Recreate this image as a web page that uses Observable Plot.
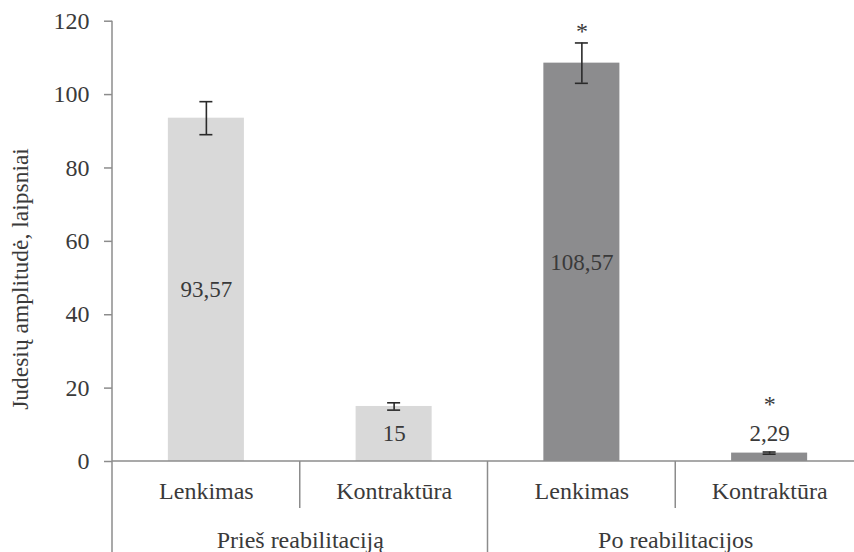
<!DOCTYPE html>
<html>
<head>
<meta charset="utf-8">
<script src="https://cdn.jsdelivr.net/npm/d3@7"></script>
<script src="https://cdn.jsdelivr.net/npm/@observablehq/plot@0.6"></script>
<style>
  html, body { margin: 0; padding: 0; background: #fff; }
  #chart svg { display: block; }
  #chart svg, #chart svg text { font-family: "Liberation Serif", "DejaVu Serif", serif !important; }
</style>
</head>
<body>
<div id="chart"></div>
<script>
// Range of motion before and after rehabilitation (mean ± error, degrees)
const groups = ["Prieš reabilitaciją", "Prieš reabilitaciją", "Po reabilitacijos", "Po reabilitacijos"];
const measures = ["Lenkimas", "Kontraktūra", "Lenkimas", "Kontraktūra"];
const means = [93.57, 15, 108.57, 2.29];
const errors = [4.5, 1.0, 5.5, 0.3];
const significant = [false, false, true, true];
const yTicks = [0, 20, 40, 60, 80, 100, 120];
const yTitle = "Judesių amplitudė, laipsniai";

const W = 854, H = 552;
const font = "Liberation Serif";
const textColor = "#3a3a3a";
const axisGray = "#8c8c8c";
const lightBar = "#d9d9d9";
const darkBar = "#8c8c8e";
const errColor = "#2a2a2a";

const marginLeft = 112, marginTop = 20.7, marginBottom = 91;
// The band axis runs a little past the right edge of the drawing
const xRange = [marginLeft, 863];
const padInner = 0.595, padOuter = padInner / 2;
const step = (xRange[1] - xRange[0]) / means.length;
const bandwidth = step * (1 - padInner);

const data = means.map((v, i) => ({
  key: i,
  group: groups[i],
  measure: measures[i],
  value: v,
  err: errors[i],
  sig: significant[i],
  label: String(v).replace(".", ","),
  fill: groups[i] === groups[0] ? lightBar : darkBar,
  inside: v >= 10
}));

// Axis lines, category separators and the rotated y title
function frameDecor(index, scales, values, dims) {
  const {y} = scales;
  const y0 = y(0);
  const g = d3.create("svg:g");
  const lines = g.append("g").attr("stroke", axisGray).attr("stroke-width", 1.5).attr("fill", "none");
  lines.append("line").attr("x1", marginLeft).attr("x2", marginLeft)
    .attr("y1", y(yTicks[yTicks.length - 1])).attr("y2", dims.height);
  lines.append("line").attr("x1", marginLeft).attr("x2", dims.width)
    .attr("y1", y0).attr("y2", y0);
  for (let i = 1; i < means.length; i++) {
    const xb = xRange[0] + i * step;
    const groupEdge = groups[i] !== groups[i - 1];
    lines.append("line").attr("x1", xb).attr("x2", xb)
      .attr("y1", y0).attr("y2", groupEdge ? dims.height : y0 + 47);
  }
  g.append("text")
    .attr("transform", `translate(28,${dims.height / 2 + 3}) rotate(-90)`)
    .attr("text-anchor", "middle")
    .attr("font-size", 23.5)
    .attr("fill", textColor)
    .text(yTitle);
  return g.node();
}

const firstOfGroup = data.filter((d, i) => i === 0 || groups[i] !== groups[i - 1]);

const chart = Plot.plot({
  width: W,
  height: H,
  marginLeft,
  marginTop,
  marginBottom,
  marginRight: 0,
  style: {fontFamily: font, fontSize: "24px", color: textColor, background: "#fff"},
  x: {type: "band", domain: data.map(d => d.key), range: xRange, paddingInner: padInner, paddingOuter: padOuter, round: false, axis: null},
  y: {domain: [0, 120], axis: null},
  color: {type: "identity"},
  marks: [
    Plot.barY(data, {x: "key", y: "value", fill: "fill"}),
    Plot.ruleX(data, {x: "key", y1: d => d.value - d.err, y2: d => d.value + d.err, stroke: errColor, strokeWidth: 1.6}),
    Plot.tickY(data, {x: "key", y: d => d.value - d.err, stroke: errColor, strokeWidth: 1.6, insetLeft: (bandwidth - 13) / 2, insetRight: (bandwidth - 13) / 2}),
    Plot.tickY(data, {x: "key", y: d => d.value + d.err, stroke: errColor, strokeWidth: 1.6, insetLeft: (bandwidth - 13) / 2, insetRight: (bandwidth - 13) / 2}),
    // value labels: centred in tall bars, above short ones
    Plot.text(data.filter(d => d.inside), {x: "key", y: d => d.value / 2, text: "label", fill: textColor, fontSize: 23, lineAnchor: "middle"}),
    Plot.text(data.filter(d => !d.inside), {x: "key", y: "value", text: "label", fill: textColor, fontSize: 23, lineAnchor: "middle", dy: -19}),
    // significance markers
    Plot.text(data.filter(d => d.sig && d.inside), {x: "key", y: d => d.value + d.err, text: () => "*", fill: textColor, fontSize: 24, lineAnchor: "bottom", dy: -4}),
    Plot.text(data.filter(d => d.sig && !d.inside), {x: "key", y: "value", text: () => "*", fill: textColor, fontSize: 24, lineAnchor: "bottom", dy: -41}),
    Plot.axisY({ticks: yTicks, label: null, tickSize: 8, tickPadding: 15, stroke: axisGray, strokeWidth: 1.5, fill: textColor, fontSize: 24, tickFormat: d => String(d)}),
    // category labels under the axis
    Plot.text(data, {x: "key", text: "measure", frameAnchor: "bottom", lineAnchor: "middle", dy: 29.5, fill: textColor, fontSize: 24}),
    Plot.text(firstOfGroup, {x: "key", text: "group", frameAnchor: "bottom", lineAnchor: "middle", dx: step / 2, dy: 78.5, fill: textColor, fontSize: 24}),
    frameDecor
  ]
});

document.getElementById("chart").appendChild(chart);
</script>
</body>
</html>
